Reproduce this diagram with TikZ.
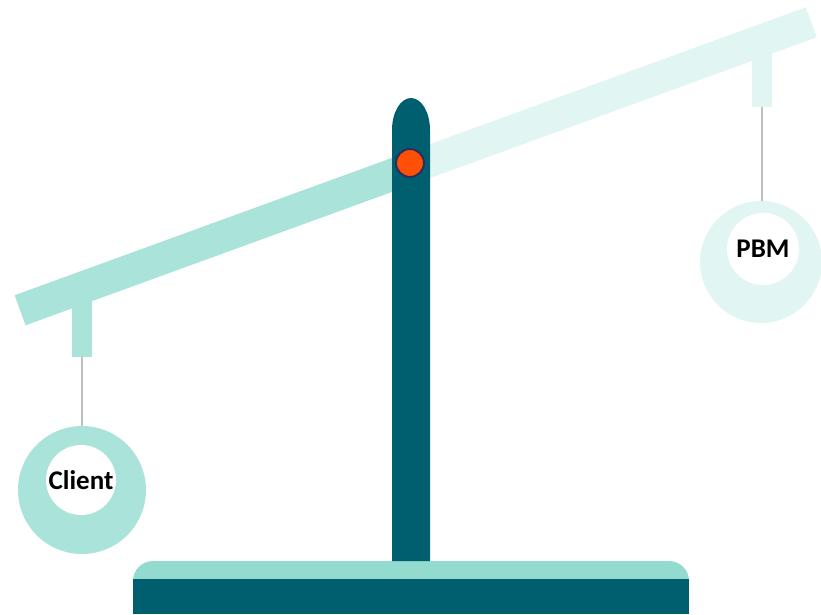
\documentclass[tikz,border=0pt]{standalone}
\usepackage{fontspec}
\setmainfont{Carlito}
\usepackage{xcolor}
\usepackage{tikz}
\usetikzlibrary{
  arrows.meta,
  positioning,
  calc
}
\definecolor{scMint}{HTML}{A9E3DA}
\definecolor{scPale}{HTML}{E1F6F3}
\definecolor{scBase}{HTML}{94DBCF}
\definecolor{scTeal}{HTML}{005F6F}
\definecolor{scPin}{HTML}{FF5005}
\definecolor{scPinRim}{HTML}{2B2D5F}
\definecolor{scCord}{HTML}{BFBFBF}
\tikzset{
  beamseg/.style={rectangle, inner sep=0pt, outer sep=0pt, minimum height=32pt},
  stem/.style={rectangle, inner sep=0pt, outer sep=0pt, minimum width=20pt, anchor=south},
  ring/.style={circle, inner sep=0pt, outer sep=0pt},
  hole/.style={circle, fill=white, inner sep=0pt, outer sep=0pt,
    font=\fontsize{27}{30}\selectfont\bfseries, text=black},
  cord/.style={draw=scCord, line width=1.5pt},
  pin/.style={circle, fill=scPin, draw=scPinRim, line width=2pt, minimum size=28pt, inner sep=0pt}
}

\begin{document}
\begin{tikzpicture}[x=1pt, y=1pt]
  \useasboundingbox (0,0) rectangle (821,614);
  % beam
  \node[beamseg, fill=scMint, minimum width=416pt, rotate=20, anchor=east] (beamleft) at (411,446) {};
  \node[beamseg, fill=scPale, minimum width=426pt, rotate=20, anchor=west] (beamright) at (411,446) {};
  \node[stem, fill=scMint, minimum height=58pt] (clientstem) at (82,257) {};
  \node[stem, fill=scPale, minimum height=58pt] (pbmstem) at (762,507) {};
  % weights
  \node[ring, fill=scMint, minimum size=128pt] (clientring) at (82,124) {};
  \node[hole, minimum size=70pt] (client) at (81,134) {Client};
  \node[ring, fill=scPale, minimum size=122pt] (pbmring) at (761,352) {};
  \node[hole, minimum size=72pt] (pbm) at (763,365) {PBM};
  \draw[cord] (clientstem.south) -- (clientstem.south |- clientring.north);
  \draw[cord] (pbmstem.south) -- (pbmstem.south |- pbmring.north);
  % stand
  \fill[scBase, rounded corners=20pt] (133,14) rectangle (689,53);
  \fill[scTeal] (133,0) rectangle (689,35);
  \fill[scTeal] (392,53) -- (392,484) arc[start angle=180, end angle=0, x radius=19, y radius=32] -- (430,53) -- cycle;
  \node[pin] (pivot) at (410,451) {};
\end{tikzpicture}
\end{document}
